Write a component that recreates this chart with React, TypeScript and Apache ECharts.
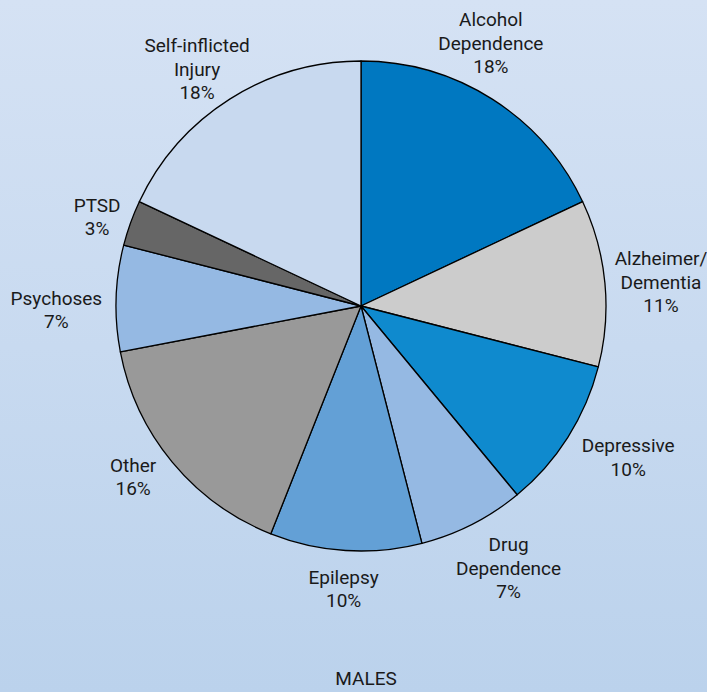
import React, { useEffect, useRef } from "react";
import * as echarts from "echarts";

const categories = [
  "Alcohol\nDependence",
  "Alzheimer/\nDementia",
  "Depressive",
  "Drug\nDependence",
  "Epilepsy",
  "Other",
  "Psychoses",
  "PTSD",
  "Self-inflicted\nInjury",
];
const shares = [18, 11, 10, 7, 10, 16, 7, 3, 18];
const sliceColors = [
  "#0078c1",
  "#cccccc",
  "#0f8ace",
  "#95b9e3",
  "#63a0d6",
  "#999999",
  "#95b9e3",
  "#666666",
  "#c8d9ef",
];
const chartTitle = "MALES";

// layout-only label nudges (pixels), applied after the radial placement
const labelNudge: [number, number][] = [
  [-36, -16],
  [-2, 4],
  [11, 1],
  [7, 2],
  [1, 3],
  [-12, -8],
  [-2, 13],
  [0, 6],
  [2, 10],
];

const W = 707;
const H = 692;
const CX = 361;
const CY = 306;
const R = 245;
const GAP = 12;
const FONT = "Roboto, 'Liberation Sans Narrow', 'DejaVu Sans Condensed', sans-serif";

export default function App() {
  const ref = useRef<HTMLDivElement>(null);
  useEffect(() => {
    if (!ref.current) return;
    const chart = echarts.init(ref.current, undefined, { renderer: "svg" });
    const total = shares.reduce((a, b) => a + b, 0);
    const mids: number[] = [];
    let cum = 0;
    shares.forEach((v) => {
      mids.push(((cum + v / 2) / total) * Math.PI * 2);
      cum += v;
    });
    chart.setOption({
      animation: false,
      backgroundColor: new echarts.graphic.LinearGradient(0, 0, 0, 1, [
        { offset: 0, color: "#d5e2f4" },
        { offset: 1, color: "#bbd2ec" },
      ]),
      title: {
        text: chartTitle,
        left: CX,
        textAlign: "center",
        top: 664,
        textStyle: {
          fontFamily: FONT,
          fontSize: 19,
          fontWeight: "normal",
          color: "#1a1a1a",
        },
      },
      series: [
        {
          type: "pie",
          center: [CX, CY],
          radius: [0, R],
          startAngle: 90,
          clockwise: true,
          avoidLabelOverlap: false,
          itemStyle: { borderColor: "#000", borderWidth: 1.3 },
          emphasis: { disabled: true },
          label: {
            show: true,
            position: "outside",
            fontFamily: FONT,
            fontSize: 19,
            lineHeight: 23.5,
            color: "#1a1a1a",
            align: "center",
            formatter: (p: any) => `${p.name}\n${p.value}%`,
          },
          labelLine: { show: false },
          labelLayout: (p: any) => {
            const a = mids[p.dataIndex];
            const dx = Math.sin(a);
            const dy = -Math.cos(a);
            const w = p.labelRect.width;
            const h = p.labelRect.height;
            const n = labelNudge[p.dataIndex] || [0, 0];
            return {
              x: CX + dx * (R + GAP) + (dx * w) / 2 + n[0],
              y: CY + dy * (R + GAP) + (dy * h) / 2 + n[1],
              align: "center",
              verticalAlign: "middle",
            };
          },
          data: categories.map((name, i) => ({
            name,
            value: shares[i],
            itemStyle: { color: sliceColors[i] },
          })),
        },
      ],
    });
    return () => chart.dispose();
  }, []);
  return (
    <div
      ref={ref}
      style={{ position: "fixed", left: 0, top: 0, width: W, height: H }}
    />
  );
}
